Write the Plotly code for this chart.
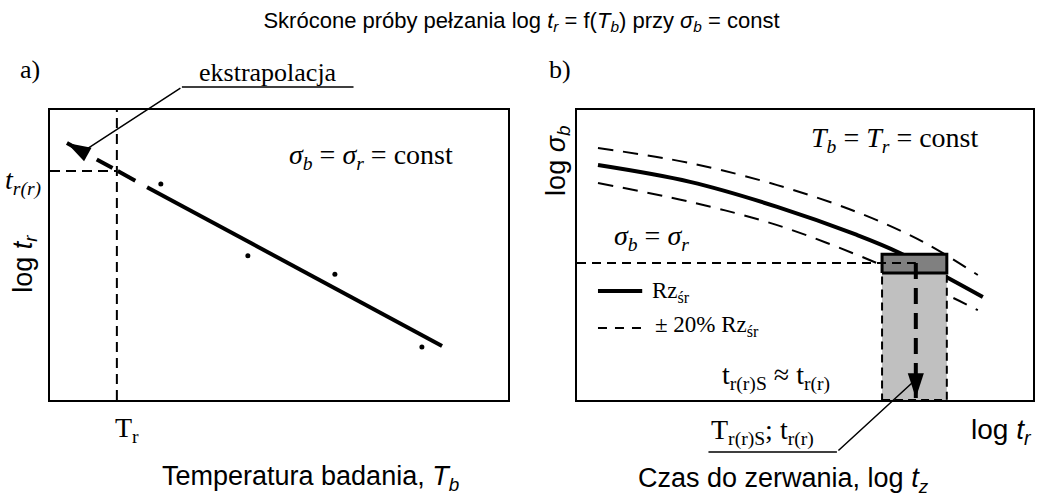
import plotly.graph_objects as go

# ---------------------------------------------------------------- data
# panel a) -- shortened creep tests at constant stress, log t_r vs test temperature
test_T = [2.42, 4.32, 6.22, 8.12]          # test temperatures T_b (schematic units)
test_log_tr = [7.45, 4.97, 4.34, 1.83]     # measured log t_r
fit_T = [2.12, 8.56]                       # fitted line through the tests
fit_log_tr = [7.34, 1.86]
extrap_T = [0.37, 2.12]                    # extrapolated part of the line (arrow tip first)
extrap_log_tr = [8.86, 7.34]
T_r = 1.46                                 # service temperature
t_rr = 7.90                                # extrapolated rupture time at T_r

# panel b) -- stress vs log time to rupture at constant temperature
mean_log_t = [0.46, 2.48, 4.39, 6.14, 7.08, 8.90]
mean_log_s = [8.10, 7.52, 6.66, 5.69, 5.07, 3.55]
upper_log_t = [0.46, 2.48, 4.39, 6.14, 7.59, 8.79]
upper_log_s = [8.69, 8.17, 7.41, 6.48, 5.45, 4.31]
lower_log_t = [0.46, 2.48, 4.39, 6.58, 8.25, 8.79]
lower_log_s = [7.48, 6.83, 6.03, 4.72, 3.52, 3.10]
sigma_r = 4.72                             # service stress level
band_t = [6.69, 8.11]                      # scatter band of rupture time
band_top = 5.03
band_bottom = 4.38
t_rrS = 7.43                               # rupture time read at sigma_r
arrow_tip = 0.07

legend_t = [0.46, 1.43]
legend_solid_s = 3.76
legend_dash_s = 2.48

SERIF = "Liberation Serif, Times New Roman, serif"
SANS = "Liberation Sans, Arial, sans-serif"
BLACK = "black"

W, H = 1043, 496
X_DOM = {"a": [50 / W, 508 / W], "b": [577 / W, 1033 / W]}
Y_DOM = [96 / H, 386 / H]
RANGE = 10.0

fig = go.Figure()

def line(xs, ys, ax, width=2, dash="solid", shape="linear"):
    fig.add_trace(go.Scatter(x=xs, y=ys, mode="lines", xaxis=ax[0], yaxis=ax[1],
                             line=dict(color=BLACK, width=width, dash=dash, shape=shape),
                             hoverinfo="skip", showlegend=False))

A = ("x", "y")
B = ("x2", "y2")

# ---- panel a)
line([T_r, T_r], [0, 10], A, 2, "10px,6px")
line([0, T_r], [t_rr, t_rr], A, 2, "10px,6px")
line(fit_T, fit_log_tr, A, 4)
line(extrap_T, extrap_log_tr, A, 4, "20px,14px,18px,6px,20px,30px")
fig.add_trace(go.Scatter(x=test_T, y=test_log_tr, mode="markers", xaxis="x", yaxis="y",
                         marker=dict(color=BLACK, size=5), showlegend=False, hoverinfo="skip"))
fig.add_trace(go.Scatter(x=extrap_T[::-1], y=extrap_log_tr[::-1], mode="markers",
                         xaxis="x", yaxis="y",
                         marker=dict(symbol="arrow", size=[1, 25], angleref="previous",
                                     color=BLACK, opacity=1, line=dict(width=0)),
                         showlegend=False, hoverinfo="skip"))

# ---- panel b)
line(upper_log_t, upper_log_s, B, 2, "15px,10px", "spline")
line(lower_log_t, lower_log_s, B, 2, "15px,10px", "spline")
line(mean_log_t, mean_log_s, B, 4, "solid", "spline")

fig.add_trace(go.Scatter(x=[band_t[0], band_t[1], band_t[1], band_t[0], band_t[0]],
                         y=[0, 0, band_bottom, band_bottom, 0], mode="lines", fill="toself",
                         fillcolor="#c0c0c0", xaxis="x2", yaxis="y2",
                         line=dict(color=BLACK, width=2, dash="8px,5px"),
                         showlegend=False, hoverinfo="skip"))
fig.add_trace(go.Scatter(x=[band_t[0], band_t[1], band_t[1], band_t[0], band_t[0]],
                         y=[band_bottom, band_bottom, band_top, band_top, band_bottom],
                         mode="lines", fill="toself", fillcolor="#808080",
                         xaxis="x2", yaxis="y2", line=dict(color=BLACK, width=3),
                         showlegend=False, hoverinfo="skip"))

line([0, t_rrS], [sigma_r, sigma_r], B, 2, "9px,6px")
line([t_rrS, t_rrS], [sigma_r, arrow_tip], B, 4, "16px,9px")
fig.add_trace(go.Scatter(x=[t_rrS, t_rrS], y=[sigma_r, arrow_tip], mode="markers",
                         xaxis="x2", yaxis="y2",
                         marker=dict(symbol="arrow", size=[1, 26], angleref="previous",
                                     color=BLACK, opacity=1, line=dict(width=0)),
                         showlegend=False, hoverinfo="skip"))

line(legend_t, [legend_solid_s] * 2, B, 4)
line(legend_t, [legend_dash_s] * 2, B, 2, "9px,8px")

# ---------------------------------------------------------------- texts
# text positions are given in panel units and converted to paper coordinates,
# so labels outside the frames stay visible
def to_paper(panel, x, y):
    d = X_DOM[panel]
    return (d[0] + x / RANGE * (d[1] - d[0]),
            Y_DOM[0] + y / RANGE * (Y_DOM[1] - Y_DOM[0]))

def unit_px(panel):
    d = X_DOM[panel]
    return ((d[1] - d[0]) * W / RANGE, (Y_DOM[1] - Y_DOM[0]) * H / RANGE)

ann = []

def text(panel, x, y, s, size=28, family=SERIF, xanchor="center", angle=0):
    px, py = to_paper(panel, x, y)
    ann.append(dict(xref="paper", yref="paper", x=px, y=py, text=s, showarrow=False,
                    xanchor=xanchor, yanchor="middle", textangle=angle,
                    font=dict(family=family, size=size, color=BLACK)))

def leader(panel, x0, y0, x1, y1):
    px, py = to_paper(panel, x1, y1)
    ux, uy = unit_px(panel)
    ann.append(dict(xref="paper", yref="paper", x=px, y=py,
                    axref="pixel", ayref="pixel",
                    ax=(x0 - x1) * ux, ay=-(y0 - y1) * uy, text="", showarrow=True,
                    arrowhead=0, arrowwidth=1.5, arrowcolor=BLACK))

# panel a)
text("a", -0.44, 11.38, "a)", 26)
text("a", 4.76, 11.30, "ekstrapolacja", 26)
leader("a", 2.88, 10.79, 0.70, 8.55)
leader("a", 6.66, 10.79, 2.88, 10.79)
text("a", 7.0, 8.38, "<i>σ<sub>b</sub></i> = <i>σ<sub>r</sub></i> = const")
text("a", -0.60, 7.52, "<i>t<sub>r(r)</sub></i>")
text("a", -0.55, 4.69, "log <i>t<sub>r</sub></i>", 27, SANS, angle=-90)
text("a", 1.68, -1.03, "T<sub>r</sub>")
text("a", 5.68, -2.69, "Temperatura badania, <i>T<sub>b</sub></i>", 27, SANS)

# panel b)
text("b", -0.37, 11.38, "b)", 26)
text("b", 6.97, 8.97, "<i>T<sub>b</sub></i> = <i>T<sub>r</sub></i> = const")
text("b", 1.64, 5.59, "<i>σ<sub>b</sub></i> = <i>σ<sub>r</sub></i>")
text("b", 1.60, 3.74, "Rz<sub>śr</sub>", 23, xanchor="left")
text("b", 1.67, 2.55, "± 20% Rz<sub>śr</sub>", 23, xanchor="left")
text("b", 4.36, 0.79, "t<sub>r(r)S</sub> ≈ t<sub>r(r)</sub>")
text("b", 4.06, -1.10, "T<sub>r(r)S</sub>; t<sub>r(r)</sub>")
leader("b", 2.85, -1.79, 5.70, -1.79)
leader("b", 5.70, -1.79, 7.37, 0.62)
text("b", 9.30, -1.10, "log <i>t<sub>r</sub></i>", 28, SANS)
text("b", 4.52, -2.76, "Czas do zerwania, log <i>t<sub>z</sub></i>", 27, SANS)
text("b", -0.42, 8.24, "log <i>σ<sub>b</sub></i>", 27, SANS, angle=-90)

frame = dict(range=[0, RANGE], showline=True, mirror=True, linecolor=BLACK, linewidth=2,
             showgrid=False, zeroline=False, showticklabels=False, ticks="", fixedrange=True)

fig.update_layout(
    width=W, height=H,
    margin=dict(l=0, r=0, t=0, b=0),
    paper_bgcolor="white", plot_bgcolor="white",
    showlegend=False,
    title=dict(text="Skrócone próby pełzania log <i>t<sub>r</sub></i> = f(<i>T<sub>b</sub></i>) "
                    "przy <i>σ<sub>b</sub></i> = const",
               x=0.5, xanchor="center", y=1 - 20 / H, yanchor="middle",
               font=dict(family=SANS, size=22, color=BLACK)),
    xaxis=dict(domain=X_DOM["a"], anchor="y", **frame),
    yaxis=dict(domain=Y_DOM, anchor="x", **frame),
    xaxis2=dict(domain=X_DOM["b"], anchor="y2", **frame),
    yaxis2=dict(domain=Y_DOM, anchor="x2", **frame),
    annotations=ann,
)

fig.write_html("out.html")
